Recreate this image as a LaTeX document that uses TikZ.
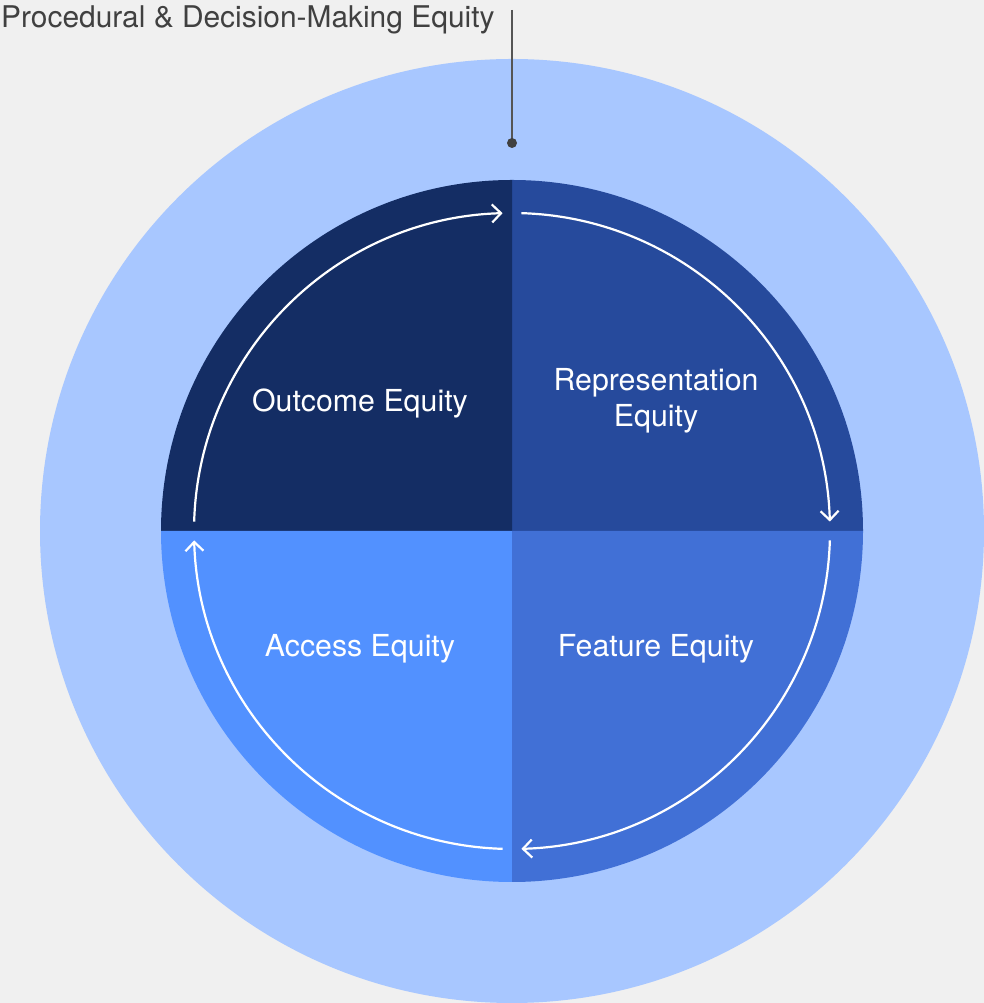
\documentclass[tikz,border=0pt]{standalone}
\usepackage{fontspec}
\setmainfont{TeX Gyre Heros}
\usetikzlibrary{arrows.meta}
\definecolor{bg}{RGB}{240,240,240}
\definecolor{outerc}{RGB}{168,199,255}
\definecolor{qtl}{RGB}{20,45,100}
\definecolor{qtr}{RGB}{38,74,156}
\definecolor{qbr}{RGB}{65,112,214}
\definecolor{qbl}{RGB}{82,145,255}
\definecolor{txtgray}{RGB}{64,64,64}
\definecolor{linegray}{RGB}{85,85,85}
\begin{document}
\begin{tikzpicture}[x=1pt,y=1pt,
  lbl/.style={text=white,font=\fontsize{30.3}{36}\selectfont,align=center,inner sep=0pt},
  cyc/.style={draw=white,line width=2.2pt,-{Straight Barb[length=9pt,width=18pt,line width=2.2pt]}}]
\useasboundingbox (0,0) rectangle (984,1003);
\fill[bg] (0,0) rectangle (984,1003);
\coordinate (c) at (512,472);
\fill[outerc] (c) circle[radius=472];
\fill[qtr] (c) -- ++(0:351) arc[start angle=0,end angle=90,radius=351] -- cycle;
\fill[qtl] (c) -- ++(90:351) arc[start angle=90,end angle=180,radius=351] -- cycle;
\fill[qbl] (c) -- ++(180:351) arc[start angle=180,end angle=270,radius=351] -- cycle;
\fill[qbr] (c) -- ++(270:351) arc[start angle=270,end angle=360,radius=351] -- cycle;
\draw[cyc] ([shift={(178.3:318)}]c) arc[start angle=178.3,end angle=91.7,radius=318];
\draw[cyc] ([shift={(88.3:318)}]c) arc[start angle=88.3,end angle=1.7,radius=318];
\draw[cyc] ([shift={(-1.7:318)}]c) arc[start angle=-1.7,end angle=-88.3,radius=318];
\draw[cyc] ([shift={(-91.7:318)}]c) arc[start angle=-91.7,end angle=-178.3,radius=318];
\node[lbl] (outcome) at (360,600) {Outcome Equity};
\node[lbl] (repr) at (656,602) {Representation\\Equity};
\node[lbl] (access) at (360,354) {Access Equity};
\node[lbl] (feature) at (656,354) {Feature Equity};
\node[text=txtgray,font=\fontsize{29.9}{36}\selectfont,anchor=base west,inner sep=0pt] (title) at (1,975) {Procedural \& Decision-Making Equity};
\coordinate (ltop) at (512,993);
\coordinate (ldot) at (512,860);
\draw[linegray,line width=1.5pt] (ltop) -- (ldot);
\fill[txtgray] (ldot) circle[radius=5];
\end{tikzpicture}
\end{document}
